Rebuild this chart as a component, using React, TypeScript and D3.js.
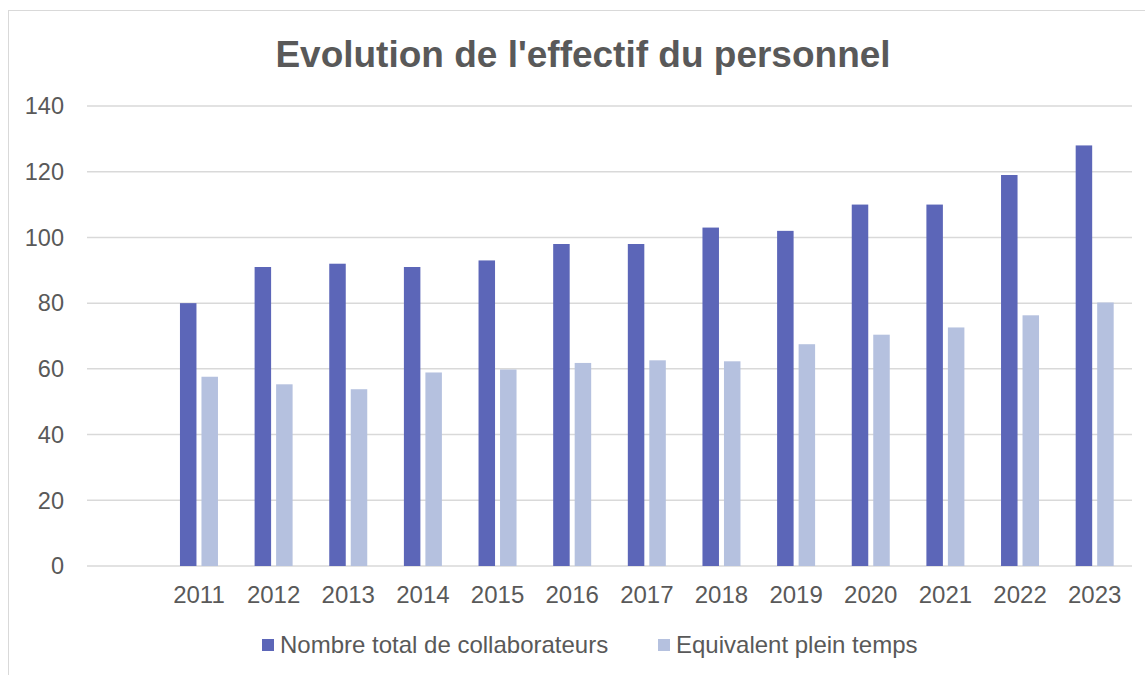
import React from "react";
import * as d3 from "d3";

const years = ["2011", "2012", "2013", "2014", "2015", "2016", "2017", "2018", "2019", "2020", "2021", "2022", "2023"];
const categories = ["", ...years];
const totalStaff = [80, 91, 92, 91, 93, 98, 98, 103, 102, 110, 110, 119, 128];
const fte = [57.6, 55.3, 53.8, 58.9, 59.8, 61.8, 62.6, 62.3, 67.5, 70.4, 72.6, 76.3, 80.2];
const seriesNames = ["Nombre total de collaborateurs", "Equivalent plein temps"];
const seriesColors = ["#5C66B8", "#B5C1DF"];
const yTicks = [0, 20, 40, 60, 80, 100, 120, 140];
const title = "Evolution de l'effectif du personnel";

const W = 1145;
const H = 675;
const plot = { left: 87, right: 1132, top: 106, bottom: 566 };
const FONT = "'Liberation Sans', Arial, sans-serif";
const TEXT = "#595959";

export default function App() {
  const x0 = d3.scaleBand<string>().domain(categories).range([plot.left, plot.right]);
  const groupW = 38;
  const bw = x0.bandwidth();
  const x1 = d3
    .scaleBand<string>()
    .domain(seriesNames)
    .range([(bw - groupW) / 2, (bw + groupW) / 2])
    .paddingInner(0.2326);
  const y = d3.scaleLinear().domain([0, 140]).range([plot.bottom, plot.top]);
  const seriesData = [totalStaff, fte];

  const legendItems = [
    { name: seriesNames[0], color: seriesColors[0], x: 262 },
    { name: seriesNames[1], color: seriesColors[1], x: 658 },
  ];

  return (
    <svg
      width={W}
      height={H}
      style={{ position: "absolute", left: 0, top: 0, display: "block", background: "#fff" }}
      fontFamily={FONT}
    >
      <rect x={8.5} y={10.5} width={W + 10} height={H + 10} fill="#fff" stroke="#d9d9d9" strokeWidth={1} />
      <text x={583} y={67} textAnchor="middle" fontSize={37} fontWeight="bold" fill={TEXT}>
        {title}
      </text>
      {yTicks.map((t) => (
        <g key={t}>
          <line x1={plot.left} x2={plot.right} y1={y(t)} y2={y(t)} stroke="#d9d9d9" strokeWidth={1.5} />
          <text x={64} y={y(t)} dy="0.35em" textAnchor="end" fontSize={23.5} fill={TEXT}>
            {t}
          </text>
        </g>
      ))}
      {years.map((yr, i) => (
        <g key={yr} transform={`translate(${x0(yr)},0)`}>
          {seriesData.map((s, si) => (
            <rect
              key={si}
              x={x1(seriesNames[si])}
              y={y(s[i])}
              width={x1.bandwidth()}
              height={y(0) - y(s[i])}
              fill={seriesColors[si]}
            />
          ))}
          <text x={bw / 2} y={603} textAnchor="middle" fontSize={24} fill={TEXT}>
            {yr}
          </text>
        </g>
      ))}
      {legendItems.map((l) => (
        <g key={l.name}>
          <rect x={l.x} y={639} width={12} height={12} fill={l.color} />
          <text x={l.x + 18} y={653} fontSize={24} fill={TEXT}>
            {l.name}
          </text>
        </g>
      ))}
    </svg>
  );
}
